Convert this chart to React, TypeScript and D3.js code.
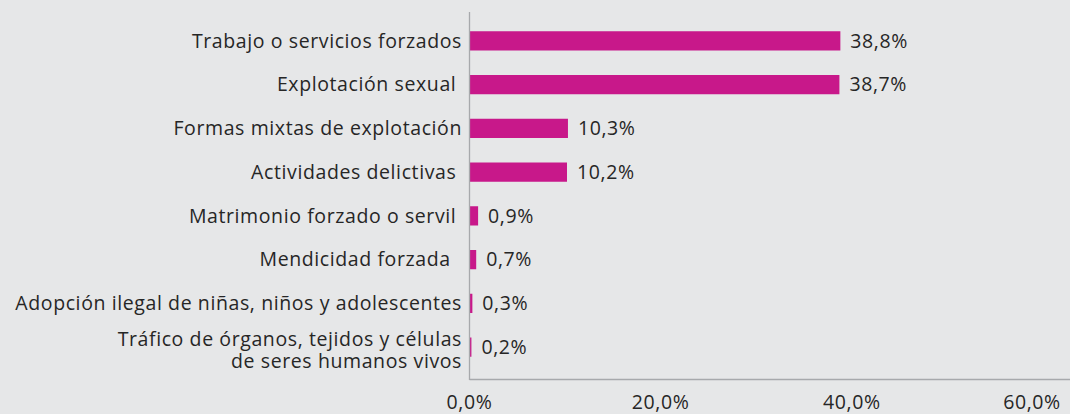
import React from "react";
import * as d3 from "d3";

const categories: string[][] = [
  ["Trabajo o servicios forzados"],
  ["Explotación sexual "],
  ["Formas mixtas de explotación"],
  ["Actividades delictivas "],
  ["Matrimonio forzado o servil "],
  ["Mendicidad forzada  "],
  ["Adopción ilegal de niñas, niños y adolescentes"],
  ["Tráfico de órganos, tejidos y células", "de seres humanos vivos"],
];
const values: number[] = [38.8, 38.7, 10.3, 10.2, 0.9, 0.7, 0.3, 0.2];
const ticks: number[] = [0, 20, 40, 60];

const W = 1070;
const H = 414;
const FONT = "'Open Sans', Lato, sans-serif";
const FS = 19.5;
const LS = 0.6;
const fmt = (v: number) => v.toFixed(1).replace(".", ",") + "%";

export default function App() {
  const x = d3.scaleLinear().domain([0, 60]).range([469.5, 1043]);
  const y = d3
    .scaleBand<number>()
    .domain(d3.range(categories.length))
    .range([19, 369])
    .paddingInner(0.56)
    .paddingOuter(0.28);
  const bw = y.bandwidth();
  return (
    <div style={{ position: "absolute", left: 0, top: 0 }}>
      <svg width={W} height={H} style={{ display: "block" }}>
        <rect x={0} y={0} width={W} height={H} fill="#e6e7e8" />
        {values.map((v, i) => (
          <rect
            key={"b" + i}
            x={x(0)}
            y={y(i)!}
            width={x(v) - x(0)}
            height={bw}
            fill="#c8188a"
          />
        ))}
        <line x1={x(0)} x2={x(0)} y1={12} y2={380} stroke="#a7a9ac" strokeWidth={1.3} />
        <line x1={x(0)} x2={W} y1={379.5} y2={379.5} stroke="#a7a9ac" strokeWidth={1.3} />
        {categories.map((lines, i) => {
          const cy = y(i)! + bw / 2;
          const lh = 22.5;
          const shift = lines.length > 1 ? 3 : 0;
          const start = cy - ((lines.length - 1) * lh) / 2 + shift;
          return (
            <text
              key={"c" + i}
              textAnchor="end"
              fontFamily={FONT}
              fontSize={FS}
              letterSpacing={LS}
              fill="#262626"
              style={{ whiteSpace: "pre" }}
            >
              {lines.map((t, j) => (
                <tspan key={j} x={462} y={start + j * lh} dy="0.35em">
                  {t}
                </tspan>
              ))}
            </text>
          );
        })}
        {values.map((v, i) => (
          <text
            key={"v" + i}
            x={x(v) + 10}
            y={y(i)! + bw / 2}
            dy="0.35em"
            fontFamily={FONT}
            fontSize={FS}
            letterSpacing={LS}
            fill="#262626"
          >
            {fmt(v)}
          </text>
        ))}
        {ticks.map((t, i) => (
          <text
            key={"t" + i}
            x={Math.min(x(t), W - 38)}
            y={402.5}
            dy="0.35em"
            textAnchor="middle"
            fontFamily={FONT}
            fontSize={FS}
            letterSpacing={LS}
            fill="#262626"
          >
            {fmt(t)}
          </text>
        ))}
      </svg>
    </div>
  );
}
